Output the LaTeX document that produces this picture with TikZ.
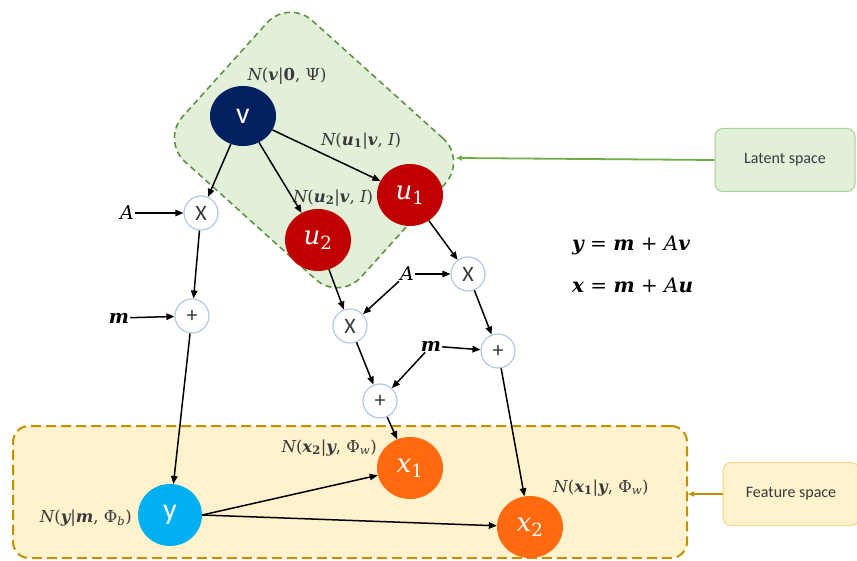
\documentclass[tikz,border=0pt]{standalone}
\usepackage{fontspec}
\newfontfamily\calib{Carlito}
\newfontfamily\dvs{DejaVu Serif}
\newcommand{\bi}[1]{{\bfseries\itshape #1}}
\newcommand{\ii}[1]{{\itshape #1}}
\newcommand{\bsub}[1]{\textsubscript{\bfseries #1}}
\usetikzlibrary{arrows.meta,shapes.geometric}
\definecolor{greenf}{HTML}{E2F0D9}
\definecolor{greend}{HTML}{5E9442}
\definecolor{greena}{HTML}{70AD47}
\definecolor{greenb}{HTML}{A9D18E}
\definecolor{featf}{HTML}{FFF2CC}
\definecolor{featd}{HTML}{BF9000}
\definecolor{featb}{HTML}{F2D88A}
\definecolor{navy}{HTML}{002060}
\definecolor{ured}{HTML}{C00000}
\definecolor{xorange}{HTML}{FF6A10}
\definecolor{ycyan}{HTML}{00B0F0}
\definecolor{opb}{HTML}{B4C7E7}
\definecolor{labc}{HTML}{3A3A3A}
\begin{document}
\begin{tikzpicture}[x=1pt,y=-1pt,
  op/.style={circle, draw=opb, fill=white, line width=1.2pt, minimum size=34pt, inner sep=0pt,
    font=\calib\fontsize{22}{22}\selectfont, text=labc},
  bign/.style={ellipse, inner sep=0pt, minimum width=66pt, minimum height=62pt, text=white,
    font=\dvs\fontsize{26}{26}\selectfont},
  vn/.style={bign, fill=navy, minimum height=60pt},
  un/.style={bign, fill=ured},
  xn/.style={bign, fill=xorange},
  yn/.style={bign, fill=ycyan},
  lab/.style={font=\dvs\fontsize{16.5}{16.5}\selectfont, text=labc, inner sep=1pt},
  sym/.style={font=\dvs\fontsize{19}{19}\selectfont, text=black, inner sep=1pt},
  arr/.style={-{Triangle[length=8pt,width=6.5pt]}, line width=1.5pt, black},
  sbox/.style={rounded corners=8pt, line width=1pt, minimum width=140pt, minimum height=63pt,
    font=\calib\fontsize{16}{16}\selectfont, text=labc}
]
\useasboundingbox (0,0) rectangle (857,561);

% regions
\node[draw=featd, fill=featf, dash pattern=on 10pt off 5pt, line width=2pt,
  rounded corners=16pt, minimum width=674pt, minimum height=132pt] (fea) at (350,492) {};
\node[draw=greend, fill=greenf, dash pattern=on 6pt off 4pt, line width=1.6pt,
  rounded corners=32pt, minimum width=240pt, minimum height=190pt, rotate=-42] (lat) at (314,150) {};
\coordinate (ltip) at (456,158);

% side boxes
\node[sbox, draw=greenb, fill=greenf] (lsb) at (785,160) {Latent space};
\node[sbox, draw=featb, fill=featf, minimum width=136pt] (fsb) at (791,494) {Feature space};
\draw[-{Triangle[length=6pt,width=5pt]}, line width=1.8pt, greena] (lsb.west) -- (ltip);
\draw[-{Triangle[length=6pt,width=5pt]}, line width=1.8pt, featd] (fsb.west) -- (fsb.west -| fea.east);

% main nodes
\node[vn, font=\calib\fontsize{30}{30}\selectfont] (v) at (243,116) {v};
\node[un] (u1) at (410,195) {\ii{u}\textsubscript{1}};
\node[un] (u2) at (318,240) {\ii{u}\textsubscript{2}};
\node[op] (X1) at (201,213) {X};
\node[op] (P1) at (192,316) {+};
\node[sym] (A1) at (127,213) {\ii{A}};
\node[sym] (m1) at (119,318) {\bi{m}};
\node[op] (X2) at (468,274) {X};
\node[sym] (A2) at (407,274) {\ii{A}};
\node[op] (X3) at (350,326) {X};
\node[op] (P2) at (498,351) {+};
\node[sym] (m2) at (431,346) {\bi{m}};
\node[op] (P3) at (380,401) {+};
\node[xn] (x1) at (410,468) {\ii{x}\textsubscript{1}};
\node[xn] (x2) at (530,527) {\ii{x}\textsubscript{2}};
\node[yn, minimum width=64pt, font=\calib\fontsize{30}{30}\selectfont] (y) at (170,515) {y};

% distribution labels
\node[lab] (lv) at (287,76) {\ii{N}(\bi{v}|{\bfseries 0}, Ψ)};
\node[lab] (lu1) at (361,141) {\ii{N}(\bi{u}\bsub{1}|\bi{v}, \ii{I})};
\node[lab] (lu2) at (333,198) {\ii{N}(\bi{u}\bsub{2}|\bi{v}, \ii{I})};
\node[lab, anchor=east] (lx2) at (378,448) {\ii{N}(\bi{x}\bsub{2}|\bi{y}, Φ\textsubscript{\itshape w})};
\node[lab] (lx1) at (601,488) {\ii{N}(\bi{x}\bsub{1}|\bi{y}, Φ\textsubscript{\itshape w})};
\node[lab, anchor=east] (ly) at (133,518) {\ii{N}(\bi{y}|\bi{m}, Φ\textsubscript{\itshape b})};

% equations
\node[font=\dvs\fontsize{20}{20}\selectfont, anchor=west, inner sep=0pt] (eq1) at (572,245) {\bi{y} = \bi{m} + \ii{A}\bi{v}};
\node[font=\dvs\fontsize{20}{20}\selectfont, anchor=west, inner sep=0pt] (eq2) at (572,285) {\bi{x} = \bi{m} + \ii{A}\bi{u}};

% connectors
\draw[arr] (v) -- (X1);
\draw[arr] (v) -- (u1);
\draw[arr] (v) -- (u2);
\draw[arr] (A1) -- (X1);
\draw[arr] (X1) -- (P1);
\draw[arr] (m1) -- (P1);
\draw[arr] (P1) -- (y);
\draw[arr] (u1) -- (X2);
\draw[arr] (A2) -- (X2);
\draw[arr] (A2) -- (X3);
\draw[arr] (u2) -- (X3);
\draw[arr] (X2) -- (P2);
\draw[arr] (m2) -- (P2);
\draw[arr] (m2) -- (P3);
\draw[arr] (X3) -- (P3);
\draw[arr] (P3) -- (x1);
\draw[arr] (P2) -- (x2);
\draw[arr] (y.east) -- (x1);
\draw[arr] (y.east) -- (x2);
\end{tikzpicture}
\end{document}
